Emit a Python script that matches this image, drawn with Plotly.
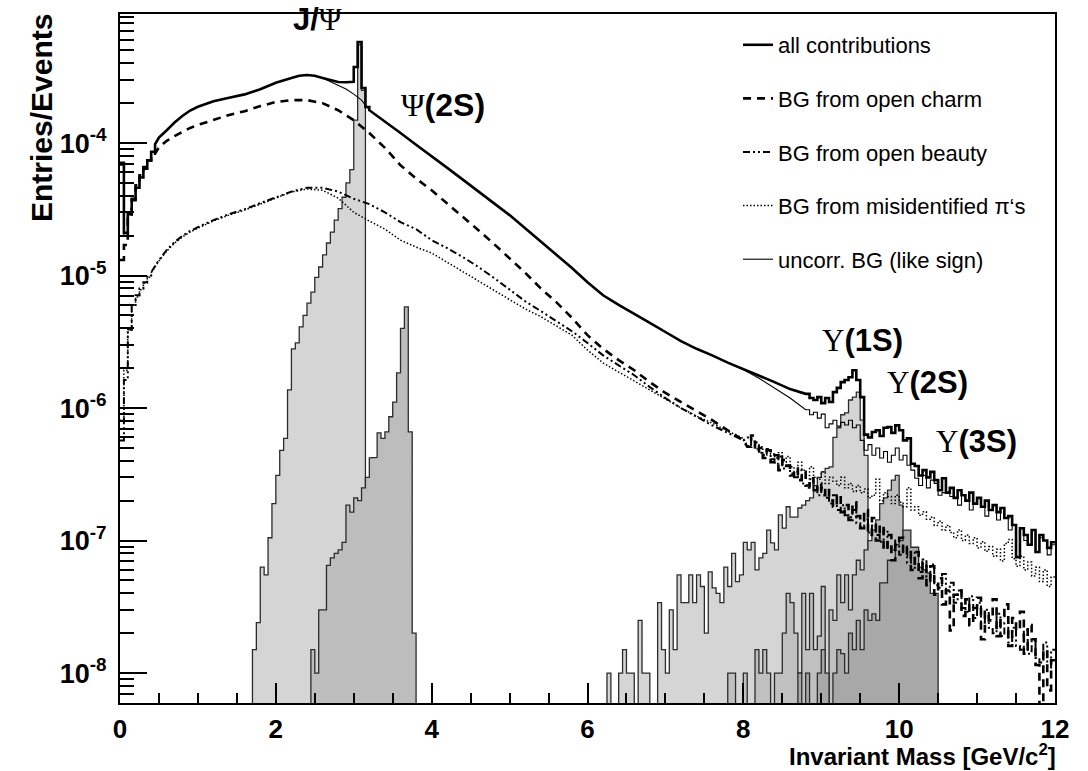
import plotly.graph_objects as go

# ---------------- data ----------------
BIN_W = 0.05      # histogram bin width [GeV/c^2]
X_MAX = 12.0

# ---- all contributions ----
allc_low_start = 0.00          # binned part (bin contents)
allc_low = [7.1e-5, 2.1e-5, 2.9e-5, 3.8e-5, 4.6e-5, 5.5e-5, 6.4e-5, 7.4e-5, 8.6e-5]
allc_rise_x = [0.45, 0.5, 0.6, 0.7, 0.8, 0.9, 1.0, 1.2, 1.4, 1.6, 1.8, 2.0, 2.2, 2.3, 2.4, 2.5,
               2.6, 2.7, 2.8, 2.9]
allc_rise_y = [9.8e-5, 1.1e-4, 1.25e-4, 1.43e-4, 1.60e-4, 1.76e-4, 1.88e-4, 2.07e-4, 2.20e-4,
               2.33e-4, 2.55e-4, 2.85e-4, 3.1e-4, 3.22e-4, 3.26e-4, 3.22e-4, 3.1e-4, 2.99e-4,
               2.89e-4, 2.88e-4]
allc_peak_start = 2.95         # J/psi peak bins
allc_peak = [2.9e-4, 3.75e-4, 5.78e-4, 2.6e-4, 1.87e-4]
allc_tail_x = [3.2, 3.4, 3.6, 3.8, 4.0, 4.2, 4.4, 4.6, 4.8, 5.0, 5.2, 5.4, 5.6, 5.8, 6.0, 6.2,
               6.4, 6.6, 6.8, 7.0, 7.2, 7.4, 7.6, 7.8, 8.0, 8.2, 8.4, 8.6]
allc_tail_y = [1.77e-4, 1.44e-4, 1.19e-4, 9.7e-5, 8.0e-5, 6.5e-5, 5.3e-5, 4.3e-5, 3.5e-5,
               2.86e-5, 2.28e-5, 1.82e-5, 1.43e-5, 1.14e-5, 8.9e-6, 7.1e-6, 6.0e-6, 5.1e-6,
               4.4e-6, 3.75e-6, 3.2e-6, 2.8e-6, 2.5e-6, 2.2e-6, 1.97e-6, 1.77e-6, 1.57e-6, 1.39e-6]
allc_fine_start = 8.80
allc_fine = [1.28e-6, 1.19e-6, 1.15e-6, 1.21e-6, 1.09e-6, 1.19e-6, 1.11e-6, 1.32e-6, 1.42e-6,
             1.57e-6, 1.63e-6, 1.71e-6, 1.93e-6, 1.63e-6, 1.21e-6, 6.3e-7, 6.0e-7, 6.6e-7,
             6.8e-7, 6.15e-7, 7.1e-7, 7.2e-7, 6.5e-7, 7.4e-7, 6.8e-7, 5.7e-7, 5.9e-7, 3.8e-7,
             3.65e-7, 3.1e-7, 3.4e-7, 3.0e-7, 3.3e-7, 2.86e-7, 2.4e-7, 2.95e-7, 2.3e-7, 2.5e-7,
             2.1e-7, 2.4e-7, 2.2e-7, 2.0e-7, 2.3e-7, 1.9e-7, 2.1e-7, 1.8e-7, 2.0e-7, 1.7e-7,
             1.85e-7, 1.64e-7, 1.76e-7, 1.48e-7, 1.53e-7, 1.31e-7, 7.5e-8, 1.24e-7, 1.1e-7,
             9.3e-8, 1.2e-7, 8.2e-8, 1.1e-7, 1.0e-7, 8.8e-8, 9.7e-8]

# ---- uncorrelated BG (like sign) ----
unc_low_start = 0.00
unc_low = [6.8e-5, 2.0e-5, 2.9e-5, 3.8e-5, 4.6e-5, 5.5e-5, 6.4e-5, 7.4e-5, 8.6e-5]
unc_x = [0.45, 0.5, 0.6, 0.7, 0.8, 0.9, 1.0, 1.2, 1.4, 1.6, 1.8, 2.0, 2.2, 2.3, 2.4, 2.5, 2.6,
         2.7, 2.8, 2.9, 3.0, 3.1, 3.2, 3.4, 3.6, 3.8, 4.0, 4.2, 4.4, 4.6, 4.8, 5.0, 5.2, 5.4,
         5.6, 5.8, 6.0, 6.2, 6.4, 6.6, 6.8, 7.0, 7.2, 7.4, 7.6, 7.8, 8.0, 8.2, 8.4, 8.6]
unc_y = [9.8e-5, 1.1e-4, 1.25e-4, 1.43e-4, 1.60e-4, 1.76e-4, 1.88e-4, 2.07e-4, 2.20e-4,
         2.33e-4, 2.55e-4, 2.85e-4, 3.1e-4, 3.22e-4, 3.26e-4, 3.22e-4, 3.1e-4, 2.91e-4,
         2.74e-4, 2.56e-4, 2.34e-4, 2.11e-4, 1.77e-4, 1.44e-4, 1.19e-4, 9.7e-5, 8.0e-5, 6.5e-5,
         5.3e-5, 4.3e-5, 3.5e-5, 2.86e-5, 2.28e-5, 1.82e-5, 1.43e-5, 1.14e-5, 8.9e-6, 7.1e-6,
         6.0e-6, 5.1e-6, 4.4e-6, 3.75e-6, 3.2e-6, 2.8e-6, 2.5e-6, 2.2e-6, 1.95e-6, 1.68e-6,
         1.42e-6, 1.19e-6]
unc_fine_start = 8.80
unc_fine = [9.7e-7, 8.9e-7, 9.3e-7, 8.4e-7, 9.0e-7, 7.1e-7, 7.6e-7, 8.1e-7, 7.3e-7, 7.8e-7,
            7.45e-7, 8.1e-7, 7.1e-7, 7.45e-7, 5.7e-7, 4.8e-7, 5.3e-7, 4.4e-7, 5.0e-7, 4.2e-7,
            4.7e-7, 3.9e-7, 4.4e-7, 5.0e-7, 4.05e-7, 4.4e-7, 3.7e-7, 3.4e-7, 2.95e-7, 2.6e-7,
            3.1e-7, 2.5e-7, 2.86e-7, 2.7e-7, 2.2e-7, 2.3e-7, 2.3e-7, 2.15e-7, 2.1e-7, 1.85e-7,
            2.2e-7, 2.0e-7, 1.7e-7, 1.9e-7, 2.1e-7, 1.8e-7, 1.53e-7, 1.7e-7, 1.85e-7, 1.43e-7,
            1.76e-7, 1.48e-7, 1.2e-7, 1.31e-7, 7.5e-8, 1.24e-7, 1.0e-7, 9.3e-8, 1.2e-7, 8.2e-8,
            1.05e-7, 1.0e-7, 7.8e-8, 9.3e-8]

# ---- BG from open charm ----
charm_low_start = 0.00
charm_low = [1.31e-5, 1.7e-5, 2.76e-5, 3.7e-5, 4.8e-5, 5.7e-5, 6.6e-5, 7.4e-5, 8.3e-5]
charm_x = [0.5, 0.6, 0.7, 0.8, 0.9, 1.0, 1.2, 1.4, 1.6, 1.8, 2.0, 2.2, 2.4, 2.6, 2.8, 3.0, 3.2,
           3.4, 3.6, 3.8, 4.0, 4.2, 4.4, 4.6, 4.8, 5.0, 5.2, 5.4, 5.6, 5.8, 6.0, 6.2, 6.4, 6.6,
           6.8, 7.0, 7.2, 7.4, 7.6, 7.8, 8.0]
charm_y = [9.3e-5, 1.04e-4, 1.13e-4, 1.21e-4, 1.30e-4, 1.37e-4, 1.49e-4, 1.63e-4, 1.74e-4,
           1.90e-4, 2.04e-4, 2.11e-4, 2.11e-4, 2.0e-4, 1.77e-4, 1.49e-4, 1.19e-4, 9.2e-5, 6.8e-5,
           5.4e-5, 4.4e-5, 3.5e-5, 2.8e-5, 2.2e-5, 1.73e-5, 1.35e-5, 1.05e-5, 8.0e-6, 6.3e-6,
           4.8e-6, 3.55e-6, 2.8e-6, 2.3e-6, 1.93e-6, 1.57e-6, 1.3e-6, 1.11e-6, 9.5e-7, 8.1e-7,
           6.8e-7, 5.7e-7]
charm_fine_start = 8.05
charm_fine = [5.1e-7, 6.2e-7, 4.7e-7, 5.0e-7, 4.2e-7, 4.8e-7, 3.9e-7, 4.4e-7, 3.4e-7, 4.05e-7,
              3.65e-7, 3.1e-7, 3.5e-7, 2.86e-7, 3.3e-7, 2.6e-7, 2.95e-7, 2.4e-7, 2.7e-7, 2.2e-7,
              2.5e-7, 2.0e-7, 1.8e-7, 2.2e-7, 1.64e-7, 1.85e-7, 1.43e-7, 1.94e-7, 1.53e-7, 1.24e-7,
              1.7e-7, 1.1e-7, 1.48e-7, 1.0e-7, 1.31e-7, 8.5e-8, 1.1e-7, 7.1e-8, 9.3e-8, 1.05e-7,
              7.8e-8, 8.8e-8, 6.0e-8, 8.2e-8, 5.2e-8, 6.9e-8, 4.6e-8, 6.4e-8, 3.9e-8, 5.2e-8,
              3.3e-8, 4.2e-8, 2.1e-8, 3.9e-8, 4.2e-8, 2.7e-8, 3.6e-8, 2.3e-8, 3.1e-8, 3.7e-8,
              1.8e-8, 2.9e-8, 2.5e-8, 3.6e-8, 1.9e-8, 2.7e-8, 3.3e-8, 1.6e-8, 2.6e-8, 2.1e-8,
              2.9e-8, 1.4e-8, 2.3e-8, 1.8e-8, 1.15e-8, 0, 1.5e-8, 7.4e-9, 1.25e-8]

# ---- BG from open beauty ----
beauty_low_start = 0.00
beauty_low = [5.7e-7, 1.63e-6, 3.9e-6, 6.0e-6, 7.1e-6, 8.0e-6, 8.9e-6, 9.8e-6]
beauty_x = [0.4, 0.5, 0.6, 0.7, 0.8, 0.9, 1.0, 1.2, 1.4, 1.6, 1.8, 2.0, 2.2, 2.4, 2.6, 2.8, 3.0,
            3.2, 3.4, 3.6, 3.8, 4.0, 4.2, 4.4, 4.6, 4.8, 5.0, 5.2, 5.4, 5.6, 5.8, 6.0, 6.2, 6.4,
            6.6, 6.8, 7.0, 7.2, 7.4, 7.6, 7.8, 8.0]
beauty_y = [1.06e-5, 1.31e-5, 1.56e-5, 1.79e-5, 1.99e-5, 2.17e-5, 2.32e-5, 2.62e-5, 2.91e-5,
            3.17e-5, 3.52e-5, 3.9e-5, 4.3e-5, 4.6e-5, 4.6e-5, 4.3e-5, 3.8e-5, 3.46e-5, 3.0e-5,
            2.53e-5, 2.24e-5, 1.85e-5, 1.61e-5, 1.38e-5, 1.16e-5, 9.6e-6, 7.8e-6, 6.4e-6, 5.4e-6,
            4.5e-6, 3.8e-6, 3.1e-6, 2.5e-6, 2.1e-6, 1.77e-6, 1.44e-6, 1.19e-6, 1.0e-6, 8.6e-7,
            7.4e-7, 6.5e-7, 5.7e-7]
beauty_fine_start = 8.05
beauty_fine = [6.0e-7, 5.2e-7, 5.5e-7, 4.6e-7, 4.4e-7, 4.9e-7, 4.1e-7, 3.8e-7, 4.3e-7, 3.5e-7,
               3.7e-7, 3.2e-7, 3.0e-7, 3.4e-7, 2.7e-7, 2.5e-7, 2.9e-7, 2.4e-7, 2.2e-7, 2.5e-7,
               2.1e-7, 1.9e-7, 2.2e-7, 1.7e-7, 1.85e-7, 1.55e-7, 1.5e-7, 1.7e-7, 1.35e-7, 1.25e-7,
               1.45e-7, 1.15e-7, 1.3e-7, 1.1e-7, 9.8e-8, 1.2e-7, 9.0e-8, 8.5e-8, 1.0e-7, 7.8e-8,
               9.0e-8, 6.8e-8, 8.2e-8, 6.2e-8, 5.8e-8, 7.2e-8, 5.3e-8, 6.6e-8, 4.6e-8, 4.4e-8,
               5.6e-8, 4.0e-8, 4.8e-8, 3.4e-8, 4.2e-8, 3.1e-8, 2.9e-8, 3.8e-8, 2.6e-8, 3.4e-8,
               2.4e-8, 3.0e-8, 2.2e-8, 2.0e-8, 2.8e-8, 1.9e-8, 2.4e-8, 1.7e-8, 2.2e-8, 1.6e-8,
               1.5e-8, 2.1e-8, 1.4e-8, 1.8e-8, 1.3e-8, 1.2e-8, 1.7e-8, 1.1e-8, 1.5e-8]

# ---- BG from misidentified pions ----
misid_low_start = 0.00
misid_low = [8.1e-7, 1.93e-6, 3.9e-6, 6.0e-6, 6.9e-6, 7.8e-6, 8.8e-6, 9.7e-6]
misid_x = [0.4, 0.5, 0.6, 0.7, 0.8, 0.9, 1.0, 1.2, 1.4, 1.6, 1.8, 2.0, 2.2, 2.4, 2.6, 2.8, 3.0,
           3.2, 3.4, 3.6, 3.8, 4.0, 4.2, 4.4, 4.6, 4.8, 5.0, 5.2, 5.4, 5.6, 5.8, 6.0, 6.2, 6.4,
           6.6, 6.8, 7.0, 7.2, 7.4, 7.6, 7.8, 8.0]
misid_y = [1.05e-5, 1.29e-5, 1.53e-5, 1.76e-5, 1.95e-5, 2.13e-5, 2.28e-5, 2.58e-5, 2.86e-5,
           3.12e-5, 3.46e-5, 3.84e-5, 4.27e-5, 4.5e-5, 4.4e-5, 3.84e-5, 3.0e-5, 2.58e-5, 2.24e-5,
           1.85e-5, 1.64e-5, 1.48e-5, 1.26e-5, 1.08e-5, 9.2e-6, 7.8e-6, 6.6e-6, 5.6e-6, 4.9e-6,
           4.2e-6, 3.55e-6, 2.74e-6, 2.19e-6, 1.87e-6, 1.6e-6, 1.37e-6, 1.17e-6, 1.0e-6, 8.7e-7,
           7.7e-7, 6.7e-7, 5.9e-7]
misid_fine_start = 8.05
misid_fine = [5.2e-7, 5.6e-7, 4.9e-7, 5.1e-7, 4.4e-7, 4.9e-7, 4.5e-7, 4.2e-7, 4.6e-7, 3.9e-7,
              4.3e-7, 3.6e-7, 3.3e-7, 3.9e-7, 3.4e-7, 3.1e-7, 3.6e-7, 3.0e-7, 2.9e-7, 3.3e-7,
              2.7e-7, 3.0e-7, 2.8e-7, 2.6e-7, 3.0e-7, 2.5e-7, 2.7e-7, 2.35e-7, 2.6e-7, 2.3e-7,
              2.45e-7, 2.1e-7, 2.2e-7, 2.9e-7, 2.0e-7, 2.3e-7, 2.15e-7, 1.9e-7, 2.2e-7, 1.95e-7,
              1.8e-7, 2.5e-7, 1.7e-7, 1.8e-7, 1.55e-7, 1.65e-7, 1.45e-7, 1.5e-7, 1.3e-7, 1.4e-7,
              1.2e-7, 1.3e-7, 1.15e-7, 1.05e-7, 1.2e-7, 1.0e-7, 1.1e-7, 9.5e-8, 1.05e-7, 8.8e-8,
              9.8e-8, 8.3e-8, 9.0e-8, 7.6e-8, 8.6e-8, 7.0e-8, 9.5e-8, 1.02e-7, 7.3e-8, 6.4e-8,
              7.6e-8, 6.0e-8, 6.9e-8, 5.4e-8, 6.3e-8, 4.9e-8, 6.0e-8, 4.5e-8, 5.3e-8]

# ---- signal histograms (0.05 GeV bins, first bin left edge given) ----
jpsi_start = 1.70
jpsi_vals = [1.5e-8, 2.4e-8, 6.3e-8, 5.5e-8, 1.05e-7, 1.9e-7, 3.1e-7, 4.8e-7, 5.9e-7, 1.37e-6,
             2.8e-6, 3.1e-6, 4.1e-6, 5.0e-6, 6.2e-6, 7.5e-6, 9.7e-6, 1.16e-5, 1.43e-5, 1.76e-5,
             2.13e-5, 2.62e-5, 3.2e-5, 3.9e-5, 5.0e-5, 6.3e-5, 1.49e-4, 5.5e-4, 2.5e-4]
psi2s_start = 2.45
psi2s_vals = [1.5e-8, 1.0e-8, 3.0e-8, 3.0e-8, 6.5e-8, 7.4e-8, 8.0e-8, 8.5e-8, 9.7e-8, 1.85e-7,
              1.64e-7, 2.1e-7, 2.0e-7, 2.5e-7, 3.0e-7, 4.2e-7, 4.25e-7, 6.5e-7, 5.9e-7, 6.6e-7,
              8.6e-7, 1.11e-6, 1.84e-6, 4.0e-6, 5.8e-6, 6.6e-7, 2.0e-8]
ups1s_start = 6.25
ups1s_vals = [1.0e-8, 0, 0, 1.0e-8, 1.5e-8, 1.0e-8, 1.0e-8, 0, 2.5e-8, 1.0e-8, 1.0e-8, 0, 0,
              3.4e-8, 1.5e-8, 1.0e-8, 3.0e-8, 1.5e-8, 5.5e-8, 3.4e-8, 3.4e-8, 5.5e-8, 3.4e-8,
              5.5e-8, 4.5e-8, 2.0e-8, 5.8e-8, 4.4e-8, 4.0e-8, 3.4e-8, 6.3e-8, 4.5e-8, 8.0e-8,
              4.9e-8, 5.5e-8, 9.7e-8, 8.5e-8, 9.7e-8, 6.0e-8, 7.4e-8, 8.0e-8, 1.2e-7, 9.6e-8,
              8.5e-8, 1.56e-7, 1.24e-7, 1.8e-7, 1.5e-7, 1.5e-7, 1.76e-7, 1.85e-7, 2.0e-7, 2.1e-7,
              2.6e-7, 3.0e-7, 3.3e-7, 3.5e-7, 3.6e-7, 6.0e-7, 7.1e-7, 8.9e-7, 9.2e-7, 1.15e-6,
              1.21e-6, 1.32e-6, 8.1e-7, 4.4e-7]
ups2s_start = 7.80
ups2s_vals = [1.0e-8, 1.0e-8, 0, 0, 1.0e-8, 0, 0, 1.5e-8, 1.0e-8, 1.5e-8, 1.0e-8, 0, 1.0e-8,
              1.0e-8, 2.0e-8, 4.0e-8, 3.4e-8, 2.0e-8, 1.0e-8, 4.0e-8, 1.5e-8, 4.0e-8, 1.5e-8,
              1.9e-8, 4.5e-8, 0, 3.0e-8, 2.5e-8, 5.5e-8, 3.4e-8, 5.5e-8, 3.0e-8, 5.5e-8, 7.1e-8,
              6.0e-8, 8.5e-8, 1.0e-7, 1.2e-7, 1.43e-7, 1.9e-7, 2.1e-7, 2.4e-7, 2.86e-7, 3.1e-7,
              1.85e-7, 7.1e-8, 2.5e-8]
ups3s_start = 8.70
ups3s_vals = [1.0e-8, 0, 1.0e-8, 0, 0, 1.0e-8, 1.5e-8, 1.0e-8, 0, 1.0e-8, 1.5e-8, 1.4e-8,
              1.0e-8, 2.0e-8, 1.5e-8, 2.5e-8, 1.5e-8, 3.0e-8, 2.5e-8, 2.8e-8, 2.5e-8, 4.8e-8,
              4.8e-8, 7.1e-8, 7.1e-8, 9.3e-8, 1.0e-7, 1.2e-7, 1.2e-7, 8.9e-8, 8.9e-8, 6.3e-8,
              6.0e-8, 5.7e-8, 4.0e-8, 4.0e-8]

y_tick_vals = [1e-8, 1e-7, 1e-6, 1e-5, 1e-4]
y_tick_text = ["10<sup>-8</sup>", "10<sup>-7</sup>", "10<sup>-6</sup>", "10<sup>-5</sup>",
               "10<sup>-4</sup>"]
x_tick_vals = [0, 2, 4, 6, 8, 10, 12]
x_tick_text = ["0", "2", "4", "6", "8", "10", "12"]

# ---------------- helpers ----------------
FLOOR = 1e-12  # empty bins are drawn down out of the visible range of the log axis


def clean(v):
    return v if v > 0 else FLOOR


def bins_path(start, vals, x_stop=None):
    """Vertices of a histogram outline (horizontal bin tops joined by verticals)."""
    xs, ys = [], []
    for i, v in enumerate(vals):
        x0 = start + i * BIN_W
        x1 = x0 + BIN_W
        if x_stop is not None:
            x1 = min(x1, x_stop)
        xs += [x0, x1]
        ys += [clean(v), clean(v)]
    return xs, ys


def build(*segments):
    xs, ys = [], []
    for seg in segments:
        if seg[0] == "bins":
            a, b = bins_path(seg[1], seg[2], X_MAX)
        else:
            a, b = list(seg[1]), [clean(v) for v in seg[2]]
        xs += a
        ys += b
    return xs, ys


def hist_polygon(start, vals):
    a, b = bins_path(start, vals)
    return [start] + a + [a[-1]], [FLOOR] + b + [FLOOR]


fig = go.Figure()

OUT = "#2b2b2b"
fills = [
    (jpsi_start, jpsi_vals, "#d5d5d5"),
    (psi2s_start, psi2s_vals, "#bdbdbd"),
    (ups1s_start, ups1s_vals, "#d5d5d5"),
    (ups2s_start, ups2s_vals, "#c0c0c0"),
    (ups3s_start, ups3s_vals, "#a8a8a8"),
]
for start, vals, col in fills:
    px_, py_ = hist_polygon(start, vals)
    fig.add_trace(go.Scatter(x=px_, y=py_, mode="lines", fill="toself", fillcolor=col,
                             line=dict(color=OUT, width=1.3), showlegend=False,
                             hoverinfo="skip"))

series = [
    ("all contributions",
     build(("bins", allc_low_start, allc_low), ("pts", allc_rise_x, allc_rise_y),
           ("bins", allc_peak_start, allc_peak), ("pts", allc_tail_x, allc_tail_y),
           ("bins", allc_fine_start, allc_fine)),
     dict(color="black", width=2.6)),
    ("BG from open charm",
     build(("bins", charm_low_start, charm_low), ("pts", charm_x, charm_y),
           ("bins", charm_fine_start, charm_fine)),
     dict(color="black", width=2.6, dash="8px,6px")),
    ("BG from open beauty",
     build(("bins", beauty_low_start, beauty_low), ("pts", beauty_x, beauty_y),
           ("bins", beauty_fine_start, beauty_fine)),
     dict(color="black", width=2.0, dash="7px,3px,2px,3px,2px,3px")),
    ("BG from misidentified \u03c0\u2018s",
     build(("bins", misid_low_start, misid_low), ("pts", misid_x, misid_y),
           ("bins", misid_fine_start, misid_fine)),
     dict(color="black", width=1.5, dash="1.5px,2px")),
    ("uncorr. BG (like sign)",
     build(("bins", unc_low_start, unc_low), ("pts", unc_x, unc_y),
           ("bins", unc_fine_start, unc_fine)),
     dict(color="black", width=1.1)),
]
for i, (name, (xs, ys), line) in enumerate(series):
    fig.add_trace(go.Scatter(x=xs, y=ys, mode="lines", line=line, name=name,
                             legendgroup=f"g{i}", showlegend=True))

# plot-area geometry (pixels) used to place labels in paper coordinates
L, R, T, B = 120, 1055, 14, 703
W, H = R - L, B - T


def px2paper(xp, yp):
    return (xp - L) / W, 1 - (yp - T) / H


SERIF = "'Liberation Serif', 'Times New Roman', serif"
labels = [
    ("<b>J/</b><span style=\"font-family:" + SERIF + "\">\u03a8</span>", 317, 19, 31),
    ("<span style=\"font-family:" + SERIF + "\">\u03a8</span><b>(2S)</b>", 443, 105, 32),
    ("<span style=\"font-family:" + SERIF + "\">\u03a5</span><b>(1S)</b>", 862, 340, 31),
    ("<span style=\"font-family:" + SERIF + "\">\u03a5</span><b>(2S)</b>", 927, 382, 31),
    ("<span style=\"font-family:" + SERIF + "\">\u03a5</span><b>(3S)</b>", 976, 441, 31),
]
annotations = []
for text, xp, yp, size in labels:
    ax_, ay_ = px2paper(xp, yp)
    annotations.append(dict(text=text, x=ax_, y=ay_, xref="paper", yref="paper",
                            xanchor="center", yanchor="middle", showarrow=False,
                            font=dict(size=size, color="black", family="Liberation Sans")))

# axis titles (ROOT style: right / top aligned)
tx, ty = px2paper(1058, 755)
annotations.append(dict(text="<b>Invariant Mass [GeV/c<sup>2</sup>]</b>", x=tx, y=ty,
                        xref="paper", yref="paper", xanchor="right", yanchor="middle",
                        showarrow=False,
                        font=dict(size=24, color="black", family="Liberation Sans")))
tx, ty = px2paper(41, 12)
annotations.append(dict(text="<b>Entries/Events</b>", x=tx, y=ty, xref="paper", yref="paper",
                        xanchor="center", yanchor="top", textangle=-90, showarrow=False,
                        font=dict(size=30, color="black", family="Liberation Sans")))

y_minor = [m * 10.0 ** e for e in range(-9, -3) for m in range(2, 10)]

fig.update_layout(
    width=1088, height=771,
    margin=dict(l=L, r=1088 - R, t=T, b=771 - B),
    paper_bgcolor="white", plot_bgcolor="white",
    font=dict(family="Liberation Sans", color="black"),
    annotations=annotations,
    legend=dict(x=px2paper(738, 0)[0], y=px2paper(0, 24)[1], xanchor="left", yanchor="top",
                bgcolor="rgba(0,0,0,0)", font=dict(size=22, family="Liberation Sans"),
                tracegroupgap=22, itemwidth=30),
    xaxis=dict(range=[0, X_MAX], showgrid=False, zeroline=False, showline=True,
               linecolor="black", linewidth=2, mirror=True,
               tickmode="array", tickvals=x_tick_vals, ticktext=x_tick_text,
               ticks="inside", ticklen=20, tickwidth=1.5, tickcolor="black",
               ticklabelstandoff=2,
               tickfont=dict(size=26, family="Liberation Sans", weight="bold"),
               minor=dict(dtick=0.5, ticks="inside", ticklen=10, tickwidth=1.5,
                          tickcolor="black", showgrid=False)),
    yaxis=dict(type="log", range=[-8.226, -3.026], showgrid=False, zeroline=False,
               showline=True, linecolor="black", linewidth=2, mirror=True,
               tickmode="array", tickvals=y_tick_vals, ticktext=y_tick_text,
               ticks="inside", ticklen=27, tickwidth=1.5, tickcolor="black",
               ticklabelstandoff=6,
               tickfont=dict(size=27, family="Liberation Sans", weight="bold"),
               minor=dict(tickmode="array", tickvals=y_minor, ticks="inside", ticklen=14,
                          tickwidth=1.5, tickcolor="black", showgrid=False)),
)

fig.write_html("out.html")
